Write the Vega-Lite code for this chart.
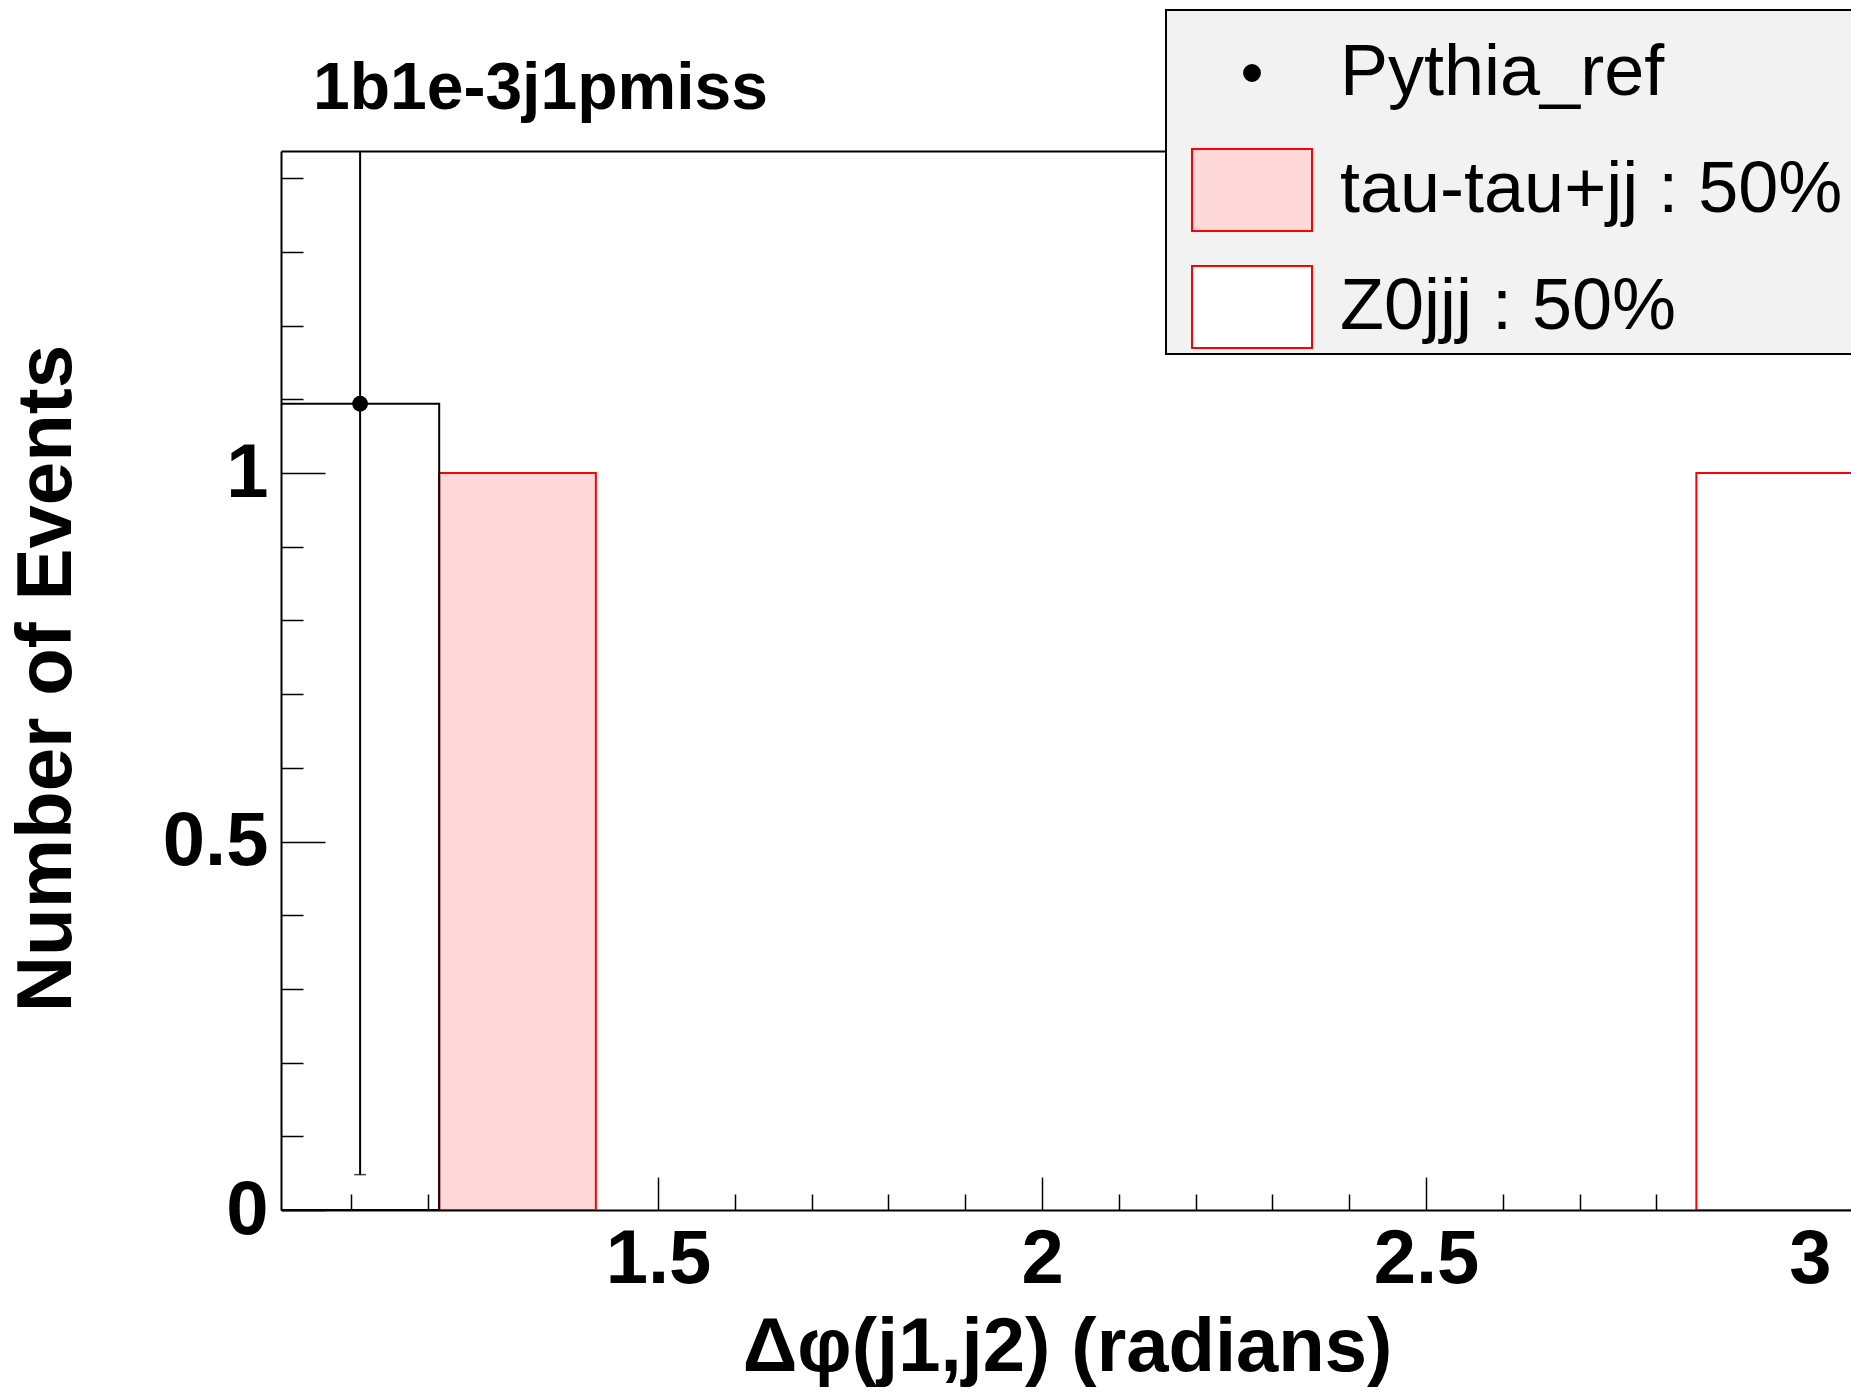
{
  "$schema": "https://vega.github.io/schema/vega-lite/v6.json",
  "width": 1570,
  "height": 1059,
  "autosize": "none",
  "padding": {"left": 281, "top": 151, "right": 0, "bottom": 184},
  "background": "white",
  "config": {
    "view": {"stroke": null},
    "font": "Liberation Sans",
    "axis": {"grid": false}
  },
  "title": {
    "text": "1b1e-3j1pmiss",
    "anchor": "start",
    "frame": "group",
    "dx": 32,
    "offset": -166,
    "baseline": "alphabetic",
    "fontSize": 66,
    "font": "Liberation Sans",
    "fontWeight": "bold",
    "color": "black"
  },
  "datasets": {
    "hist": [
      {"series": "tau-tau+jj : 50%", "lo": 1.215, "hi": 1.419, "n": 1},
      {"series": "Z0jjj : 50%", "lo": 2.852, "hi": 3.056, "n": 1}
    ],
    "pdata": [
      {"series": "Pythia_ref", "lo": 1.009, "hi": 1.215, "center": 1.112, "n": 1.094, "elo": 0.048, "ehi": 2.14}
    ]
  },
  "resolve": {"axis": {"x": "independent", "y": "independent"}},
  "layer": [
    {
      "data": {"name": "hist"},
      "mark": {"type": "rect", "strokeWidth": 2, "clip": true},
      "encoding": {
        "x": {"field": "lo", "type": "quantitative",
          "scale": {"domain": [1.009, 3.0534], "nice": false, "zero": false},
          "axis": {"orient": "bottom", "values": [1.5, 2, 2.5, 3], "format": "~g", "ticks": false, "domain": true,
            "domainColor": "black", "domainWidth": 2, "labels": true, "labelFont": "Liberation Sans", "labelFontWeight": "bold",
            "labelFontSize": 76, "labelColor": "black", "labelPadding": 12, "labelBaseline": "top", "labelFlush": false,
            "labelOverlap": false, "labelBound": false,
            "title": "Δφ(j1,j2) (radians)", "titleFont": "Liberation Sans", "titleFontWeight": "bold", "titleFontSize": 76,
            "titleColor": "black", "titleX": 786, "titleY": 137, "titleBaseline": "middle", "titleAlign": "center", "titleAngle": 0}},
        "x2": {"field": "hi"},
        "y": {"field": "n", "type": "quantitative",
          "scale": {"domain": [0, 1.437], "nice": false, "zero": false},
          "axis": {"orient": "left", "values": [0, 0.5, 1], "format": "~g", "ticks": false, "domain": true,
            "domainColor": "black", "domainWidth": 2, "labels": true, "labelFont": "Liberation Sans", "labelFontWeight": "bold",
            "labelFontSize": 76, "labelColor": "black", "labelPadding": 13, "labelFlush": false, "labelOverlap": false, "labelBound": false,
            "title": "Number of Events", "titleFont": "Liberation Sans", "titleFontWeight": "bold", "titleFontSize": 78,
            "titleColor": "black", "titleX": -234, "titleY": 527, "titleAngle": -90, "titleBaseline": "middle", "titleAlign": "center"}},
        "y2": {"datum": 0},
        "fill": {"field": "series", "type": "nominal",
          "scale": {"domain": ["Pythia_ref", "tau-tau+jj : 50%", "Z0jjj : 50%"], "range": ["black", "#ffd8d9", "white"]},
          "legend": {
            "orient": "none", "legendX": 885, "legendY": -141,
            "title": ".", "titleOrient": "right", "titleColor": "#f2f2f2", "titleFontSize": 8, "titlePadding": 50,
            "fillColor": "#f2f2f2", "strokeColor": "black", "padding": 2,
            "gridAlign": "all",
            "symbolSize": 14400, "symbolStrokeWidth": 2, "symbolType": "M-1,-0.683H1V0.683H-1Z",
            "symbolOffset": 23,
            "labelFont": "Liberation Sans", "labelFontSize": 72, "labelColor": "black", "labelLimit": 2000,
            "labelOffset": 27, "rowPadding": 11,
            "encode": {
              "legend": {"update": {"strokeWidth": {"value": 2}}},
              "symbols": {"update": {
                "shape": {"signal": "datum.value === 'Pythia_ref' ? 'circle' : 'M-1,-0.683H1V0.683H-1Z'"},
                "size": {"signal": "datum.value === 'Pythia_ref' ? 250 : 14400"}
              }}
            }
          }},
        "stroke": {"field": "series", "type": "nominal",
          "scale": {"domain": ["Pythia_ref", "tau-tau+jj : 50%", "Z0jjj : 50%"], "range": ["black", "#ff0000", "#ff0000"]},
          "legend": null}
      }
    },
    {
      "data": {"name": "pdata"},
      "mark": {"type": "rect", "fill": null, "stroke": "black", "strokeWidth": 2, "clip": true},
      "encoding": {
        "x": {"field": "lo", "type": "quantitative",
          "scale": {"domain": [1.009, 3.0534], "nice": false, "zero": false},
          "axis": {"orient": "bottom", "values": [1.5, 2, 2.5, 3], "labels": false, "domain": false, "ticks": true,
            "tickSize": -33, "tickColor": "black", "tickWidth": 1.5, "title": null}},
        "x2": {"field": "hi"},
        "y": {"field": "n", "type": "quantitative",
          "scale": {"domain": [0, 1.437], "nice": false, "zero": false},
          "axis": {"orient": "left", "values": [0, 0.5, 1], "labels": false, "domain": false, "ticks": true,
            "tickSize": -44, "tickColor": "black", "tickWidth": 1.5, "title": null}},
        "y2": {"datum": 0}
      }
    },
    {
      "data": {"name": "pdata"},
      "mark": {"type": "rule", "color": "black", "strokeWidth": 2, "clip": true},
      "encoding": {
        "x": {"field": "center", "type": "quantitative",
          "scale": {"domain": [1.009, 3.0534], "nice": false, "zero": false},
          "axis": {"orient": "bottom", "values": [1.1, 1.2, 1.3, 1.4, 1.6, 1.7, 1.8, 1.9, 2.1, 2.2, 2.3, 2.4, 2.6, 2.7, 2.8, 2.9, 3.0],
            "labels": false, "domain": false, "ticks": true,
            "tickSize": -16, "tickColor": "black", "tickWidth": 1.5, "title": null}},
        "y": {"field": "elo", "type": "quantitative",
          "scale": {"domain": [0, 1.437], "nice": false, "zero": false},
          "axis": {"orient": "left", "values": [0.1, 0.2, 0.3, 0.4, 0.6, 0.7, 0.8, 0.9, 1.1, 1.2, 1.3, 1.4],
            "labels": false, "domain": false, "ticks": true,
            "tickSize": -22, "tickColor": "black", "tickWidth": 1.5, "title": null}},
        "y2": {"field": "ehi"}
      }
    },
    {
      "data": {"name": "pdata"},
      "mark": {"type": "tick", "orient": "horizontal", "color": "black", "size": 12, "thickness": 1.5, "clip": true},
      "encoding": {
        "x": {"field": "center", "type": "quantitative",
          "scale": {"domain": [1.009, 3.0534], "nice": false, "zero": false},
          "axis": {"orient": "top", "values": [], "labels": false, "ticks": false, "domain": true,
            "domainColor": "black", "domainWidth": 2, "title": null}},
        "y": {"field": "elo", "type": "quantitative",
          "scale": {"domain": [0, 1.437], "nice": false, "zero": false},
          "axis": null}
      }
    },
    {
      "data": {"name": "pdata"},
      "mark": {"type": "point", "shape": "circle", "filled": true, "color": "black", "size": 250, "opacity": 1, "clip": true},
      "encoding": {
        "x": {"field": "center", "type": "quantitative",
          "scale": {"domain": [1.009, 3.0534], "nice": false, "zero": false},
          "axis": null},
        "y": {"field": "n", "type": "quantitative",
          "scale": {"domain": [0, 1.437], "nice": false, "zero": false},
          "axis": null}
      }
    }
  ]
}
